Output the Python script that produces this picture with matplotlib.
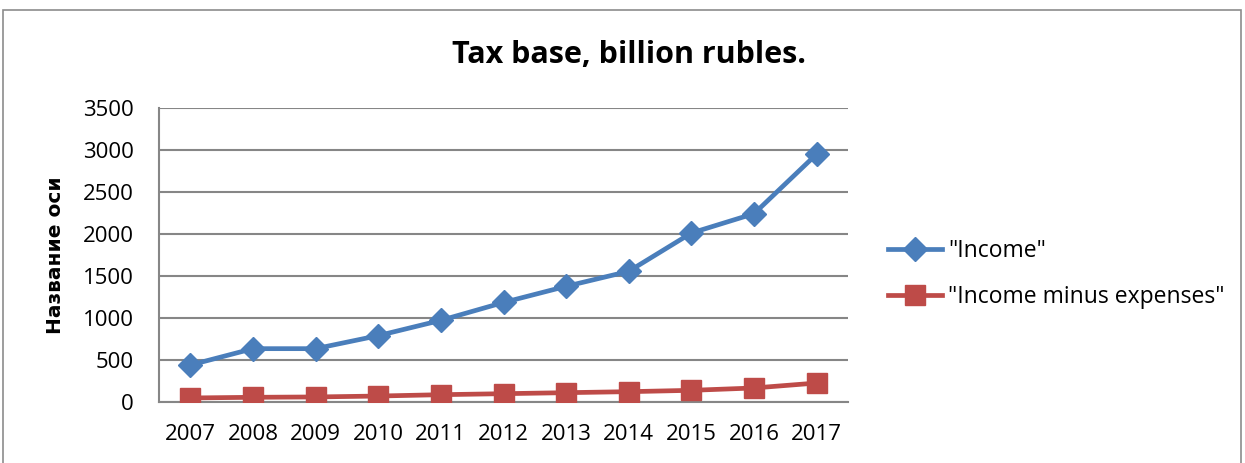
import matplotlib.pyplot as plt
from matplotlib.patches import Rectangle

# tax base by year, billion rubles
years = ['2007', '2008', '2009', '2010', '2011', '2012',
         '2013', '2014', '2015', '2016', '2017']
income = [440, 635, 635, 790, 972, 1185, 1377, 1556, 2012, 2242, 2952]
income_minus_exp = [48, 56, 60, 71, 87, 99, 111, 123, 139, 167, 226]

blue = '#4A7EBB'
red = '#BE4B48'
grid_col = '#868686'

plt.rcParams['font.family'] = ['Open Sans', 'DejaVu Sans']

fig = plt.figure(figsize=(12.45, 4.63), dpi=100)

# outer chart frame
fig.patches.append(Rectangle((3 / 1245, -0.01), 1238 / 1245, 1 - 10 / 463 + 0.01,
                             transform=fig.transFigure, fill=False,
                             edgecolor='#8C8C8C', linewidth=1.2))

ax = fig.add_axes([159 / 1245, 61 / 463, 689 / 1245, 294 / 463])
x = list(range(len(years)))

ax.plot(x, income, color=blue, linewidth=3.4, marker='D', markersize=12,
        label='"Income"', zorder=3)
ax.plot(x, income_minus_exp, color=red, linewidth=3.4, marker='s', markersize=14,
        label='"Income minus expenses"', zorder=3)

ax.set_xlim(-0.5, 10.5)
ax.set_ylim(0, 3500)
ax.set_yticks(range(0, 3501, 500))
ax.set_xticks(x)
ax.set_xticklabels(years)
ax.tick_params(axis='both', length=0, colors='black', labelsize=16)
ax.tick_params(axis='x', pad=16)
ax.tick_params(axis='y', pad=18)

ax.grid(axis='y', color=grid_col, linewidth=1.5)
ax.set_axisbelow(True)
for side in ['top', 'right']:
    ax.spines[side].set_visible(False)
ax.spines['left'].set_color(grid_col)
ax.spines['left'].set_linewidth(1.5)
ax.spines['bottom'].set_color(grid_col)
ax.spines['bottom'].set_linewidth(1.5)

fig.text(56 / 1245, 1 - 255 / 463, 'Название оси', rotation=90, ha='center',
         va='center', fontsize=14.5, fontweight='bold', family='DejaVu Sans')

fig.text(629 / 1245, 1 - 55 / 463, 'Tax base, billion rubles.', ha='center',
         va='center', fontsize=22, fontweight='bold')

ax.legend(loc='center left', bbox_to_anchor=(1.058, 0.435), frameon=False,
          fontsize=16.5, handlelength=2.36, handletextpad=0.26, labelspacing=0.95,
          borderpad=0, borderaxespad=0)

fig.savefig('out.png', dpi=100)
